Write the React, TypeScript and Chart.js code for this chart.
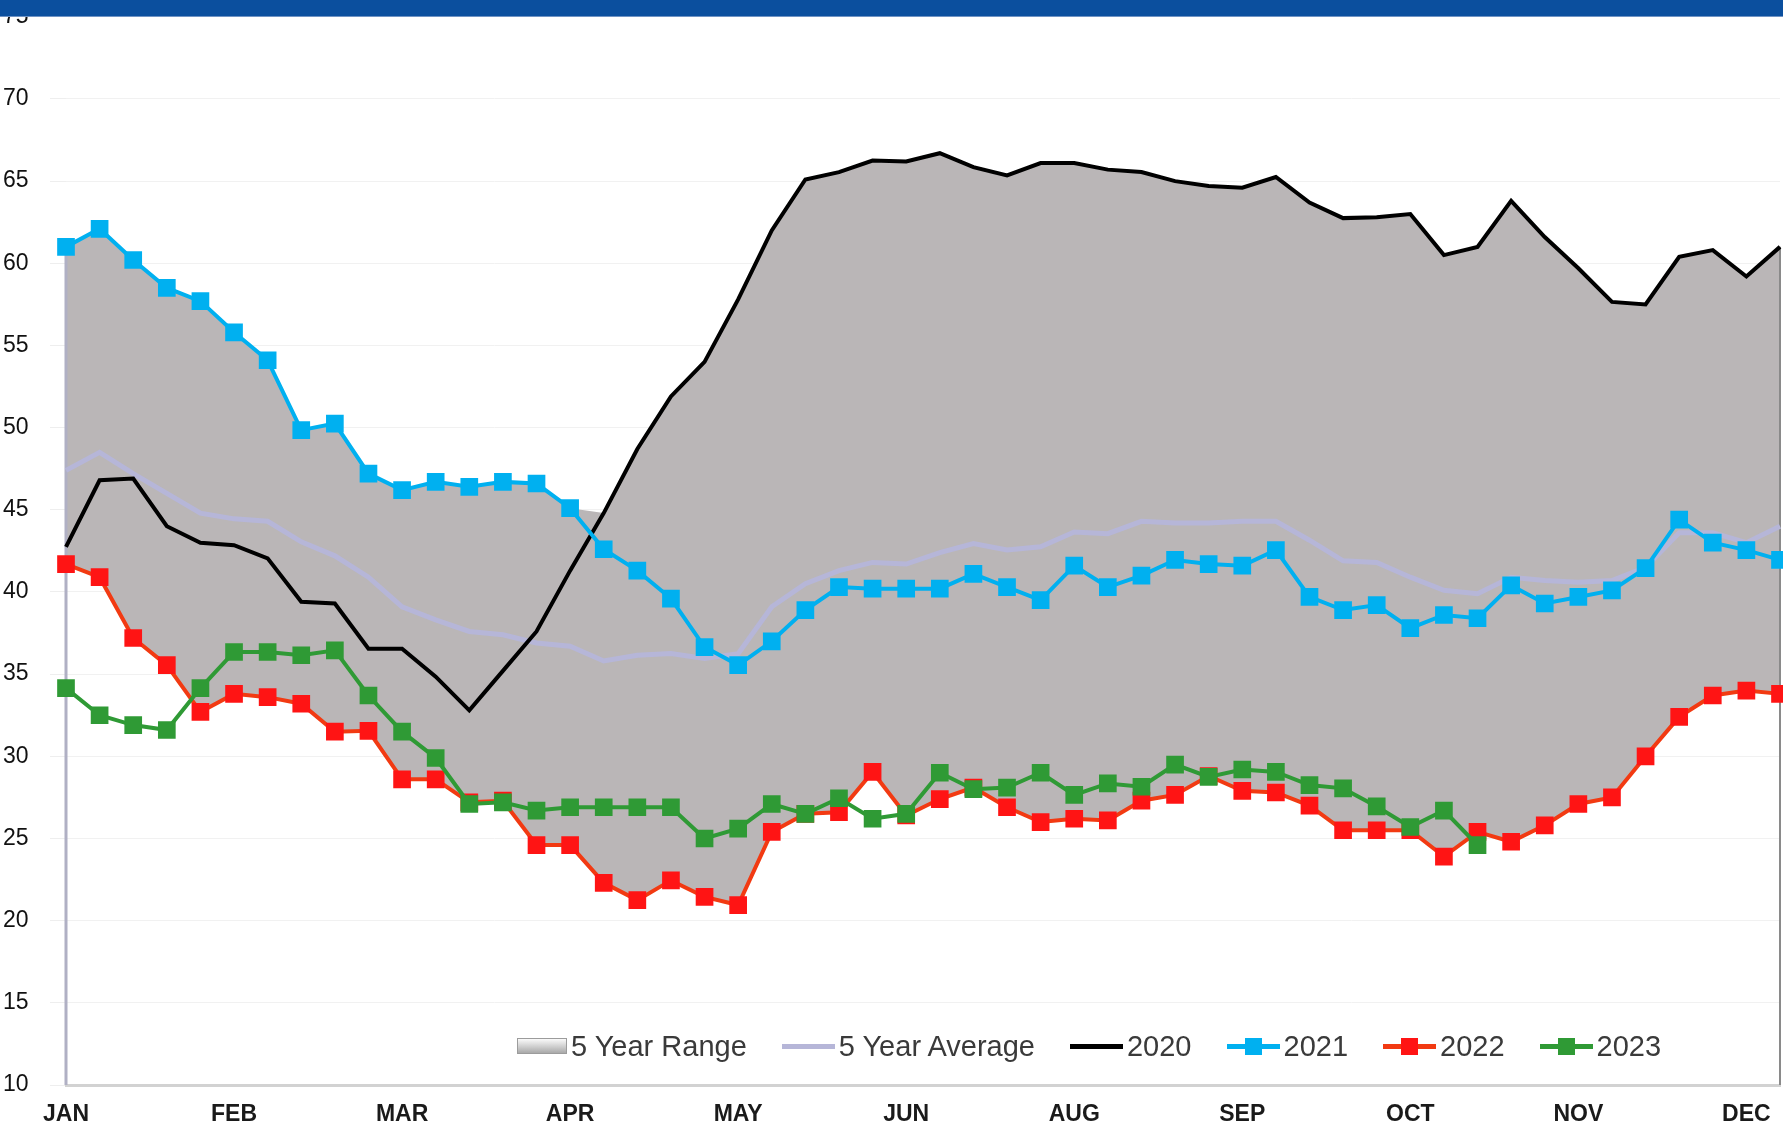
import React, { useEffect, useRef } from 'react';
import { Chart, registerables } from 'chart.js';

Chart.register(...registerables);

// ---- Data ----
const monthTicks = ['JAN', 'FEB', 'MAR', 'APR', 'MAY', 'JUN', 'AUG', 'SEP', 'OCT', 'NOV', 'DEC'];
const weekCount = 52;
const weeksPerTick = 5;

const rangeMax = [
  61.0, 62.1, 60.2, 58.5, 57.7, 55.8, 54.1, 49.85, 50.25, 47.2,
  46.2, 46.7, 46.4, 46.7, 46.6, 45.1, 44.8, 48.7, 51.9, 54.0,
  57.8, 62.0, 65.1, 65.55, 66.25, 66.2, 66.7, 65.85, 65.35, 66.1,
  66.1, 65.7, 65.55, 65.0, 64.7, 64.6, 65.25, 63.7, 62.75, 62.8,
  63.0, 60.5, 61.0, 63.8, 61.6, 59.7, 57.65, 57.5, 60.4, 60.8,
  59.2, 61.0,
];
const rangeMin = [
  41.7, 40.9, 37.2, 35.55, 32.7, 33.8, 33.6, 33.2, 31.5, 31.55,
  28.6, 28.6, 27.2, 27.3, 24.6, 24.6, 22.3, 21.25, 22.45, 21.45,
  20.95, 25.4, 26.5, 26.6, 29.05, 26.4, 27.4, 28.1, 26.9, 26.0,
  26.2, 26.1, 27.3, 27.65, 28.8, 27.9, 27.8, 27.0, 25.5, 25.5,
  25.5, 23.9, 25.4, 24.8, 25.8, 27.1, 27.5, 30.0, 32.4, 33.7,
  34.0, 33.8,
];
const avg5 = [
  47.4, 48.5, 47.2, 46.0, 44.8, 44.45, 44.3, 43.05, 42.2, 40.9,
  39.1, 38.3, 37.6, 37.4, 36.9, 36.7, 35.8, 36.15, 36.25, 35.95,
  36.25, 39.1, 40.5, 41.3, 41.8, 41.7, 42.4, 42.95, 42.55, 42.75,
  43.65, 43.55, 44.3, 44.2, 44.2, 44.3, 44.3, 43.15, 41.9, 41.8,
  40.9, 40.1, 39.9, 40.9, 40.7, 40.6, 40.7, 41.5, 43.6, 43.6,
  43.0, 44.0,
];
const y2020 = [
  42.75, 46.8, 46.9, 44.0, 43.0, 42.85, 42.05, 39.4, 39.3, 36.55,
  36.55, 34.85, 32.8, 35.2, 37.6, 41.3, 44.8, 48.7, 51.9, 54.0,
  57.8, 62.0, 65.1, 65.55, 66.25, 66.2, 66.7, 65.85, 65.35, 66.1,
  66.1, 65.7, 65.55, 65.0, 64.7, 64.6, 65.25, 63.7, 62.75, 62.8,
  63.0, 60.5, 61.0, 63.8, 61.6, 59.7, 57.65, 57.5, 60.4, 60.8,
  59.2, 61.0,
];
const y2021 = [
  61.0, 62.1, 60.2, 58.5, 57.7, 55.8, 54.1, 49.85, 50.25, 47.2,
  46.2, 46.7, 46.4, 46.7, 46.6, 45.1, 42.6, 41.3, 39.6, 36.65,
  35.55, 37.0, 38.9, 40.3, 40.2, 40.2, 40.2, 41.1, 40.3, 39.5,
  41.6, 40.3, 41.0, 41.95, 41.7, 41.6, 42.55, 39.7, 38.9, 39.2,
  37.8, 38.6, 38.4, 40.4, 39.3, 39.7, 40.1, 41.45, 44.4, 43.0,
  42.55, 41.95,
];
const y2022 = [
  41.7, 40.9, 37.2, 35.55, 32.7, 33.8, 33.6, 33.2, 31.5, 31.55,
  28.6, 28.6, 27.2, 27.3, 24.6, 24.6, 22.3, 21.25, 22.45, 21.45,
  20.95, 25.4, 26.5, 26.6, 29.05, 26.4, 27.4, 28.1, 26.9, 26.0,
  26.2, 26.1, 27.3, 27.65, 28.8, 27.9, 27.8, 27.0, 25.5, 25.5,
  25.5, 23.9, 25.4, 24.8, 25.8, 27.1, 27.5, 30.0, 32.4, 33.7,
  34.0, 33.8,
];
const y2023: (number | null)[] = [
  34.15, 32.5, 31.9, 31.6, 34.15, 36.35, 36.35, 36.15, 36.45, 33.7,
  31.5, 29.9, 27.1, 27.2, 26.7, 26.9, 26.9, 26.9, 26.9, 25.0,
  25.6, 27.1, 26.5, 27.45, 26.2, 26.5, 29.0, 28.0, 28.1, 29.0,
  27.65, 28.35, 28.15, 29.5, 28.75, 29.2, 29.05, 28.25, 28.05, 26.95,
  25.7, 26.7, 24.6, null, null, null, null, null, null, null,
  null, null,
];

const weekLabels = Array.from({ length: weekCount }, (_, i) =>
  i % weeksPerTick === 0 ? monthTicks[i / weeksPerTick] ?? '' : ''
);

// ---- Styles ----
const C = {
  range: '#bab6b7',
  avg: '#b6b6d8',
  y2020: '#000000',
  y2021: '#00b0f0',
  y2022line: '#f23a12',
  y2022pt: '#ff1414',
  y2023: '#2f9a35',
};
const FONT = '"Liberation Sans", Arial, sans-serif';

const rangeEdges = {
  id: 'rangeEdges',
  afterDatasetDraw(chart: any, args: any) {
    if (args.index !== 1) return;
    const { ctx, chartArea, scales } = chart;
    const x = scales.x;
    const y = scales.y;
    const n = rangeMax.length;
    ctx.save();
    const x0 = x.getPixelForValue(0);
    ctx.lineWidth = 3;
    ctx.strokeStyle = '#b0b0c4';
    ctx.beginPath();
    ctx.moveTo(x0, y.getPixelForValue(rangeMax[0]));
    ctx.lineTo(x0, chartArea.bottom);
    ctx.stroke();
    const x1 = x.getPixelForValue(n - 1);
    ctx.lineWidth = 2;
    ctx.strokeStyle = '#8a8a8a';
    ctx.beginPath();
    ctx.moveTo(x1, y.getPixelForValue(rangeMax[n - 1]));
    ctx.lineTo(x1, chartArea.bottom);
    ctx.stroke();
    ctx.restore();
  },
};

const legendItems = [
  { label: '5 Year Range', kind: 'range', color: C.range, marker: false },
  { label: '5 Year Average', kind: 'line', color: C.avg, marker: false },
  { label: '2020', kind: 'line', color: C.y2020, marker: false },
  { label: '2021', kind: 'line', color: C.y2021, marker: true, markerColor: C.y2021 },
  { label: '2022', kind: 'line', color: C.y2022line, marker: true, markerColor: C.y2022pt },
  { label: '2023', kind: 'line', color: C.y2023, marker: true, markerColor: C.y2023 },
];

function LegendIcon({ item }: { item: any }) {
  if (item.kind === 'range') {
    return (
      <span
        style={{
          display: 'inline-block',
          width: 50,
          height: 16,
          background: 'linear-gradient(#fafafa 0%, #d6d6d6 45%, #a9a9a9 100%)',
          border: '1px solid #9c9c9c',
          boxSizing: 'border-box',
        }}
      />
    );
  }
  return (
    <span style={{ position: 'relative', display: 'inline-block', width: 53, height: 18 }}>
      <span
        style={{
          position: 'absolute',
          left: 0,
          top: 7,
          width: 53,
          height: 5,
          background: item.color,
        }}
      />
      {item.marker && (
        <span
          style={{
            position: 'absolute',
            left: 18,
            top: 1,
            width: 17,
            height: 17,
            background: item.markerColor,
          }}
        />
      )}
    </span>
  );
}

export default function App() {
  const ref = useRef<HTMLCanvasElement>(null);

  useEffect(() => {
    const canvas = ref.current;
    if (!canvas) return;
    Chart.defaults.font.family = FONT;
    const pointBase = {
      pointStyle: 'rect' as const,
      pointRadius: 12.5,
      pointHoverRadius: 12.5,
      pointBorderWidth: 0,
      borderWidth: 4,
      tension: 0,
      fill: false,
    };
    const chart = new Chart(canvas, {
      type: 'line',
      data: {
        labels: weekLabels,
        datasets: [
          {
            label: 'rangeMin',
            data: rangeMin,
            borderWidth: 0,
            borderColor: 'rgba(0,0,0,0)',
            pointRadius: 0,
            fill: false,
            order: 7,
          },
          {
            label: '5 Year Range',
            data: rangeMax,
            borderWidth: 0,
            borderColor: 'rgba(0,0,0,0)',
            backgroundColor: C.range,
            pointRadius: 0,
            fill: '-1',
            order: 6,
          },
          {
            label: '5 Year Average',
            data: avg5,
            borderColor: C.avg,
            borderWidth: 5,
            pointRadius: 0,
            tension: 0,
            fill: false,
            order: 5,
          },
          {
            label: '2020',
            data: y2020,
            borderColor: C.y2020,
            borderWidth: 4,
            pointRadius: 0,
            tension: 0,
            fill: false,
            order: 4,
          },
          {
            label: '2021',
            data: y2021,
            borderColor: C.y2021,
            backgroundColor: C.y2021,
            pointBackgroundColor: C.y2021,
            ...pointBase,
            order: 3,
          },
          {
            label: '2022',
            data: y2022,
            borderColor: C.y2022line,
            backgroundColor: C.y2022pt,
            pointBackgroundColor: C.y2022pt,
            ...pointBase,
            order: 2,
          },
          {
            label: '2023',
            data: y2023,
            borderColor: C.y2023,
            backgroundColor: C.y2023,
            pointBackgroundColor: C.y2023,
            ...pointBase,
            order: 1,
          },
        ],
      },
      options: {
        responsive: false,
        maintainAspectRatio: false,
        devicePixelRatio: 1,
        animation: false,
        layout: { autoPadding: false, padding: { top: 16.4, left: 3, right: 3, bottom: 0 } },
        plugins: {
          legend: { display: false },
          tooltip: { enabled: false },
        },
        scales: {
          x: {
            type: 'category',
            offset: false,
            grid: { display: false, drawTicks: false },
            border: { display: true, color: '#d2d2d2', width: 3 },
            ticks: {
              autoSkip: false,
              maxRotation: 0,
              minRotation: 0,
              padding: 16,
              color: '#1a1a1a',
              font: { family: FONT, size: 23, weight: 'bold' },
            },
            afterFit: (s: any) => {
              s.height = 49;
              s.paddingLeft = 0;
              s.paddingRight = 0;
            },
          },
          y: {
            min: 10,
            max: 75,
            ticks: {
              stepSize: 5,
              crossAlign: 'far',
              color: '#111111',
              font: { family: FONT, size: 23 },
            },
            grid: {
              color: '#f1f1f1',
              lineWidth: 1,
              drawTicks: true,
              tickLength: 16,
              tickColor: '#eeeeee',
            },
            border: { display: false },
            afterFit: (s: any) => {
              s.width = 63;
            },
          },
        },
      } as any,
      plugins: [rangeEdges],
    });
    return () => chart.destroy();
  }, []);

  return (
    <div
      style={{
        position: 'fixed',
        left: 0,
        top: 0,
        width: 1783,
        height: 1134,
        background: '#ffffff',
        overflow: 'hidden',
      }}
    >
      <canvas
        ref={ref}
        width={1783}
        height={1134}
        style={{ display: 'block', width: 1783, height: 1134 }}
      />
      <div
        style={{
          position: 'absolute',
          left: 0,
          top: 0,
          width: 1783,
          height: 16,
          background: '#0b4f9e',
          borderBottom: '1px solid #6f93c4',
        }}
      />
      <div
        style={{
          position: 'absolute',
          left: 517,
          top: 1029,
          height: 34,
          display: 'flex',
          alignItems: 'center',
          gap: 35,
          fontFamily: FONT,
          fontSize: 29,
          color: '#3a3a3a',
          whiteSpace: 'nowrap',
        }}
      >
        {legendItems.map((it) => (
          <div key={it.label} style={{ display: 'flex', alignItems: 'center', gap: 4 }}>
            <LegendIcon item={it} />
            <span>{it.label}</span>
          </div>
        ))}
      </div>
    </div>
  );
}
